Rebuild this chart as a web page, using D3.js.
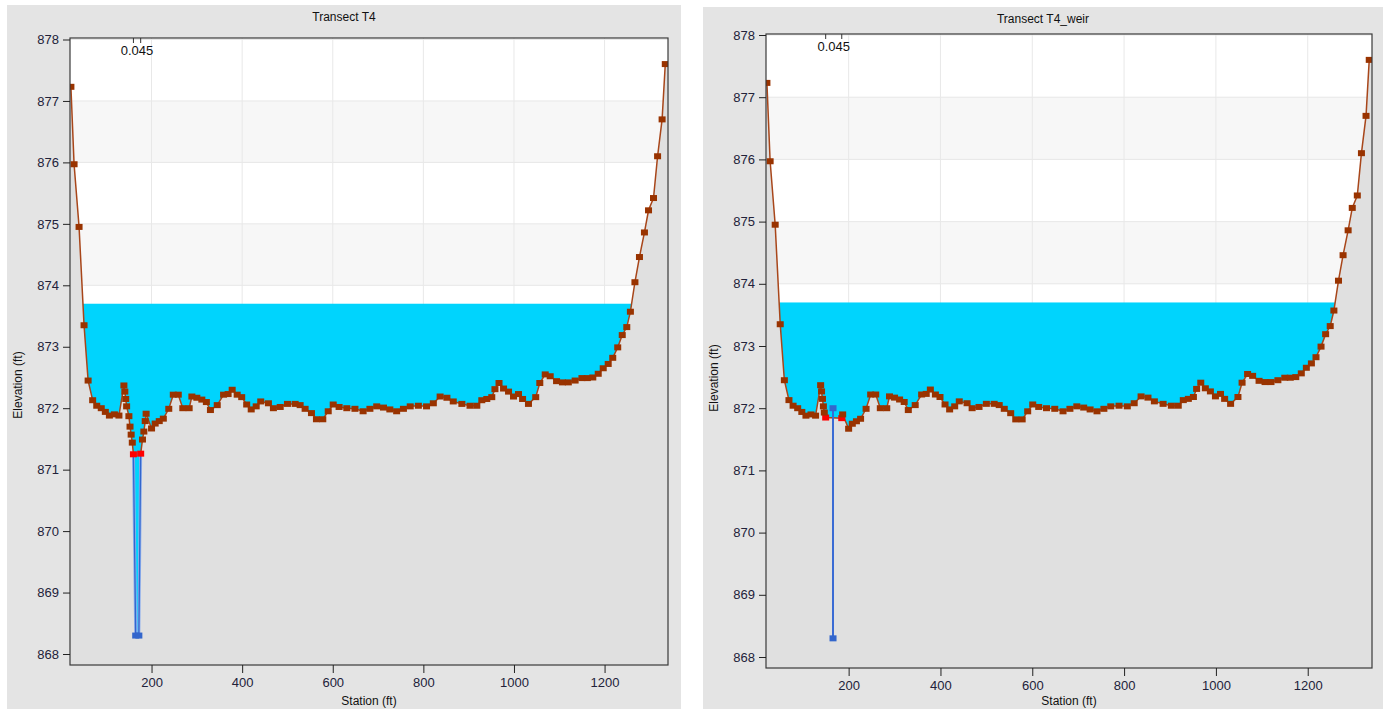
<!DOCTYPE html>
<html>
<head>
<meta charset="utf-8">
<script src="https://d3js.org/d3.v7.min.js"></script>
<style>
  body { margin: 0; background: #ffffff; }
  svg { font-family: "Liberation Sans", Arial, sans-serif; display: block; }
  .tick text { fill: #22223a; font-size: 13px; }
  .tick line { stroke: #222; }
  .domain { display: none; }
</style>
</head>
<body>
<svg id="chart" width="1390" height="709"></svg>
<script>
// ---- data ----
const elevTicks = [868, 869, 870, 871, 872, 873, 874, 875, 876, 877, 878];
const stationTicks = [200, 400, 600, 800, 1000, 1200];
const waterSurface = 873.7;
const nLabel = "0.045";

// shared left overbank (station, elevation)
const leftBank = [
  [22, 877.23], [29, 875.97], [40, 874.95], [51, 873.35], [60, 872.45], [70, 872.13],
  [79, 872.04], [89, 872.0], [98, 871.94], [107, 871.88], [118, 871.9], [128, 871.88],
  [139, 872.37], [141, 872.27], [143, 872.15], [145, 872.03]
];
// main channel, transect T4 (with the deep slot)
const channelT4 = [
  [150, 871.87], [152.5, 871.7], [155, 871.57], [157.5, 871.44], [160, 871.25],
  [165, 868.3], [172, 868.3],
  [176, 871.26], [180, 871.49], [183, 871.62], [186, 871.79], [188, 871.91]
];
// main channel, transect T4_weir
const channelWeir = [[147, 871.93], [150, 871.85], [185, 871.84], [187, 871.9]];
// shared right part of the section
const rightPart = [
  [200, 871.67], [208, 871.75], [217, 871.79], [226, 871.83], [238, 871.99], [248, 872.22],
  [259, 872.22], [269, 872.0], [283, 872.0], [289, 872.19], [300, 872.17], [311, 872.14],
  [321, 872.1], [330, 871.97], [345, 872.05], [359, 872.22], [369, 872.23], [378, 872.3],
  [389, 872.22], [399, 872.18], [410, 872.06], [420, 871.98], [431, 872.03], [441, 872.11],
  [458, 872.08], [469, 872.0], [484, 872.02], [500, 872.07], [517, 872.07], [528, 872.05],
  [539, 871.99], [553, 871.92], [564, 871.82], [578, 871.82], [590, 871.95], [601, 872.06],
  [614, 872.02], [631, 872.0], [649, 871.99], [667, 871.95], [682, 871.99], [697, 872.03],
  [712, 872.01], [726, 871.98], [741, 871.95], [756, 871.99], [771, 872.03], [789, 872.04],
  [807, 872.03], [822, 872.08], [837, 872.19], [852, 872.17], [866, 872.11], [885, 872.07],
  [903, 872.04], [918, 872.04], [929, 872.13], [940, 872.15], [951, 872.18], [958, 872.31],
  [967, 872.41], [977, 872.32], [988, 872.27], [999, 872.19], [1010, 872.23], [1019, 872.15],
  [1032, 872.07], [1048, 872.18], [1057, 872.41], [1069, 872.55], [1080, 872.52], [1094, 872.44],
  [1107, 872.42], [1120, 872.42], [1135, 872.45], [1150, 872.49], [1162, 872.49], [1174, 872.5],
  [1186, 872.56], [1197, 872.65], [1208, 872.72], [1218, 872.82], [1229, 872.99], [1239, 873.19],
  [1249, 873.32], [1257, 873.57], [1267, 874.05], [1277, 874.46], [1288, 874.86], [1297, 875.22],
  [1308, 875.42], [1317, 876.1], [1327, 876.7], [1334, 877.6]
];
const banksT4 = [[160, 871.25], [176, 871.26]];
const slotT4 = [[165, 868.3], [172, 868.3]];
const banksWeir = [[150, 871.85], [185, 871.84]];
const weirLine = [[166, 872.0], [166, 868.3]];

const terrainT4 = leftBank.concat(channelT4, rightPart);
const terrainWeir = leftBank.concat(channelWeir, rightPart);

const svg = d3.select("#chart");

function drawPanel(p) {
  const g = svg.append("g");
  // panel background
  g.append("rect").attr("x", p.box[0]).attr("y", p.box[1])
    .attr("width", p.box[2] - p.box[0]).attr("height", p.box[3] - p.box[1])
    .attr("fill", "#e4e4e4");

  const x = d3.scaleLinear().domain([20, 1340]).range([p.left, p.right]);
  const y = d3.scaleLinear().domain([868, 878]).range([p.y868, p.y878]);

  const clipId = "clip" + p.id;
  g.append("clipPath").attr("id", clipId).append("rect")
    .attr("x", p.left).attr("y", p.top).attr("width", p.right - p.left).attr("height", p.bottom - p.top);
  const plot = g.append("g").attr("clip-path", "url(#" + clipId + ")");

  // alternating elevation bands
  plot.selectAll("rect.band").data(elevTicks.slice(0, -1)).enter().append("rect")
    .attr("x", p.left).attr("width", p.right - p.left)
    .attr("y", d => y(d + 1)).attr("height", d => y(d) - y(d + 1))
    .attr("fill", d => d % 2 === 0 ? "#f7f7f7" : "#ffffff");
  plot.append("rect").attr("x", p.left).attr("width", p.right - p.left)
    .attr("y", p.top).attr("height", y(878) - p.top).attr("fill", "#ffffff");

  // grid
  plot.selectAll("line.hg").data(elevTicks).enter().append("line")
    .attr("x1", p.left).attr("x2", p.right).attr("y1", d => y(d)).attr("y2", d => y(d))
    .attr("stroke", "#e8e8e8").attr("stroke-width", 1);
  plot.selectAll("line.vg").data(stationTicks).enter().append("line")
    .attr("x1", d => x(d)).attr("x2", d => x(d)).attr("y1", p.top).attr("y2", p.bottom)
    .attr("stroke", "#e8e8e8").attr("stroke-width", 1);

  // water
  plot.append("rect").attr("x", p.left).attr("width", p.right - p.left)
    .attr("y", y(waterSurface)).attr("height", p.bottom - y(waterSurface))
    .attr("fill", "#00d4fd");

  // ground
  const t = p.terrain;
  const groundPts = [[p.left, p.bottom], [p.left, y(t[0][1])]]
    .concat(t.map(d => [x(d[0]), y(d[1])]))
    .concat([[p.right, y(t[t.length - 1][1])], [p.right, p.bottom]]);
  plot.append("path").attr("d", d3.line()(groundPts) + "Z").attr("fill", "#e0e0e0");

  const line = d3.line().x(d => x(d[0])).y(d => y(d[1]));
  plot.append("path").attr("d", line(t)).attr("fill", "none")
    .attr("stroke", "#a8461a").attr("stroke-width", 1.5);

  // special lines
  if (p.slot) {
    const slotPath = [p.banks[0]].concat(p.slot, [p.banks[1]]);
    plot.append("path").attr("d", line(slotPath)).attr("fill", "none")
      .attr("stroke", "#8fb0ee").attr("stroke-width", 3);
    plot.append("path").attr("d", line(slotPath)).attr("fill", "none")
      .attr("stroke", "#3366cc").attr("stroke-width", 1.3);
  }
  if (p.weir) {
    plot.append("path").attr("d", line(p.weir)).attr("fill", "none")
      .attr("stroke", "#3a6bd4").attr("stroke-width", 2);
  }

  // markers: bank stations first, terrain points over them
  const mw = 7, mh = 6;
  function markers(data, color) {
    plot.append("g").selectAll("rect").data(data).enter().append("rect")
      .attr("x", d => x(d[0]) - mw / 2).attr("y", d => y(d[1]) - mh / 2)
      .attr("width", mw).attr("height", mh).attr("fill", color);
  }
  const special = p.banks.concat(p.slot || []);
  markers(p.banks, "#ff0000");
  markers(t.filter(d => !special.some(s => s[0] === d[0])), "#993300");
  if (p.slot) markers(p.slot, "#3366cc");
  if (p.weir) markers(p.weir, "#3366cc");

  // plot border
  g.append("rect").attr("x", p.left).attr("y", p.top)
    .attr("width", p.right - p.left).attr("height", p.bottom - p.top)
    .attr("fill", "none").attr("stroke", "#3a3a3a").attr("stroke-width", 1.2);

  // Manning's n marks at the bank stations
  g.selectAll("line.nt").data(p.banks).enter().append("line")
    .attr("x1", d => x(d[0])).attr("x2", d => x(d[0]))
    .attr("y1", p.top).attr("y2", p.top + 5)
    .attr("stroke", "#333").attr("stroke-width", 1);
  g.append("text").attr("x", x((p.banks[0][0] + p.banks[1][0]) / 2)).attr("y", p.top + 17)
    .attr("text-anchor", "middle").attr("font-size", 13).attr("fill", "#111").text(nLabel);

  // axes
  g.append("g").attr("transform", "translate(" + p.left + ",0)")
    .call(d3.axisLeft(y).tickValues(elevTicks).tickFormat(d3.format("d")).tickSize(7).tickPadding(4));
  g.append("g").attr("transform", "translate(0," + p.bottom + ")")
    .call(d3.axisBottom(x).tickValues(stationTicks).tickFormat(d3.format("d")).tickSize(8).tickPadding(5));

  // titles
  g.append("text").attr("x", (p.box[0] + p.box[2]) / 2).attr("y", p.box[1] + 16)
    .attr("text-anchor", "middle").attr("font-size", 12).attr("fill", "#111").text(p.title);
  g.append("text").attr("x", (p.left + p.right) / 2).attr("y", p.xlabelY)
    .attr("text-anchor", "middle").attr("font-size", 12).attr("fill", "#111").text("Station (ft)");
  g.append("text").attr("transform", "translate(" + (p.box[0] + 15) + "," + p.ylabelY + ") rotate(-90)")
    .attr("text-anchor", "middle").attr("font-size", 12).attr("fill", "#111").text("Elevation (ft)");
}

drawPanel({
  id: "a", title: "Transect T4", box: [7, 5, 681, 709],
  left: 70, right: 668, top: 38, bottom: 665, y878: 39.5, y868: 654, ylabelY: 385, xlabelY: 705,
  terrain: terrainT4, banks: banksT4, slot: slotT4
});
drawPanel({
  id: "b", title: "Transect T4_weir", box: [703, 7, 1383, 709],
  left: 766, right: 1372, top: 34, bottom: 668, y878: 35, y868: 657, ylabelY: 378, xlabelY: 705,
  terrain: terrainWeir, banks: banksWeir, weir: weirLine
});
</script>
</body>
</html>
